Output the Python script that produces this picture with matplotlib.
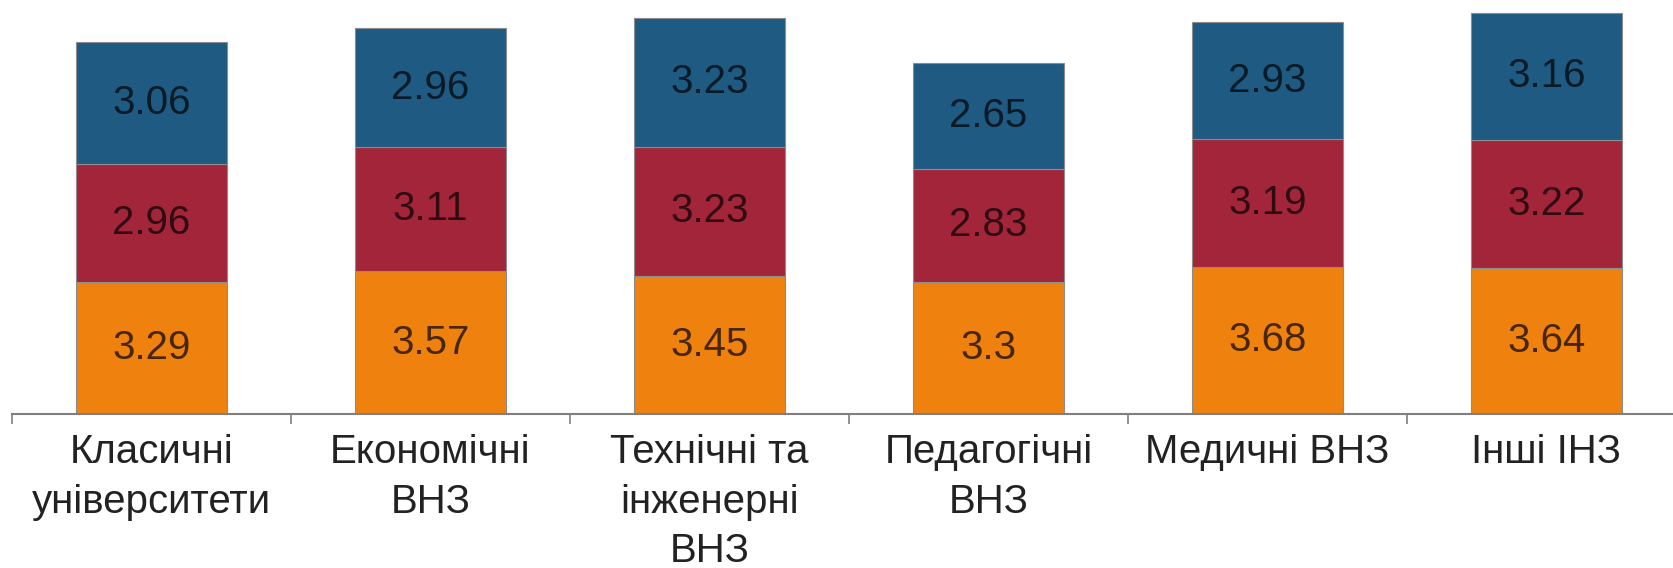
import numpy as np
import matplotlib
matplotlib.use("Agg")
import matplotlib.pyplot as plt

plt.rcParams['font.family'] = ['Liberation Sans', 'DejaVu Sans']

categories = ["Класичні\nуніверситети", "Економічні\nВНЗ", "Технічні та\nінженерні\nВНЗ",
              "Педагогічні\nВНЗ", "Медичні ВНЗ", "Інші ІНЗ"]
orange_vals = [3.29, 3.57, 3.45, 3.3, 3.68, 3.64]
red_vals = [2.96, 3.11, 3.23, 2.83, 3.19, 3.22]
blue_vals = [3.06, 2.96, 3.23, 2.65, 2.93, 3.16]

series = [(orange_vals, "#ef820e"), (red_vals, "#a3253a"), (blue_vals, "#1e5a82")]

W, H = 1674, 568
fig = plt.figure(figsize=(W / 100, H / 100), dpi=100)
# axis extends past the right edge like in the source image
ax = fig.add_axes([12 / W, (H - 414) / H, 1674 / W, 414 / H])

x = np.arange(len(categories))
bottom = np.zeros(len(categories))
for vals, col in series:
    vals = np.array(vals)
    ax.bar(x, vals, width=0.54, bottom=bottom, color=col,
           edgecolor="#8c8c8c", linewidth=0.8)
    for xi, b, v in zip(x, bottom, vals):
        ax.text(xi, b + v / 2, f"{v:g}", ha="center", va="center",
                fontsize=29, color="black", alpha=0.7)
    bottom += vals

ax.set_xlim(-0.5, 5.5)
ax.set_ylim(0, 414 / 40)

for s in ["top", "right", "left"]:
    ax.spines[s].set_visible(False)
ax.spines["bottom"].set_color("#7f7f7f")
ax.spines["bottom"].set_linewidth(1.5)
ax.set_yticks([])

ax.set_xticks(x)
ax.set_xticklabels(categories, fontsize=29, color="#222222", linespacing=1.38)
ax.tick_params(axis="x", which="major", length=0, pad=14)
ax.set_xticks(np.arange(-0.5, 6, 1), minor=True)
ax.tick_params(axis="x", which="minor", length=7, width=1.2, color="#7f7f7f")

fig.savefig("out.png", dpi=100)
